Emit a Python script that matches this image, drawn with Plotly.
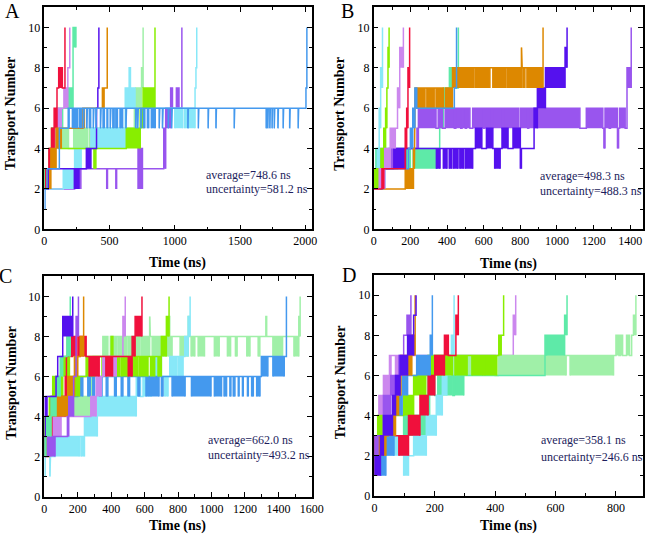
import plotly.graph_objects as go

W, H = 661, 546

# colours
C_RED = '#f0103c'; C_ORCHID = '#cc88ee'; C_AQUA = '#5eeaa8'; C_BVIOLET = '#5511ee'
C_ORANGE = '#dd8800'; C_PGREEN = '#a0f0a8'; C_CHART = '#88ee00'; C_PURPLE = '#9955ee'
C_CYAN = '#88e8f8'; C_BLUE = '#4499ee'

# Each trajectory: list of [t_end, low, high]; low<high = rapid hopping between levels.
# ---------------- Panel A ----------------
A_red = [[10,2,2],[35,2,3],[55,3,4],[75,4,5],[97,5,6],[110,7,7],[138,7,8],[158,7,7]]
A_orchid = [[15,2,2],[45,2,3],[70,3,4],[100,4,5],[130,5,6],[150,6,6],[180,6,7],[195,8,8]]
A_aqua = [[25,2,3],[60,3,3],[95,4,5],[140,5,6],[182,6,6],[220,6,7],[242,9,10]]
A_bviolet = [[30,2,2],[230,3,3],[265,2,3],[322,3,3],[357,3,4],[400,4,4],[410,6,6],[418,7,7]]
A_orange = [[20,2,2],[50,2,3],[90,3,4],[130,4,5],[295,5,5],[307,5,6],[445,6,6],[458,6,7],[482,7,7]]
A_pgreen = [[35,2,3],[60,3,4],[185,4,5],[225,4,4],[330,4,5],[345,4,4],[455,4,5],[690,5,5],[700,5,6],[745,6,7],[757,7,8]]
A_chart = [[40,2,3],[55,3,4],[110,4,5],[380,4,4],[395,3,4],[628,4,4],[735,4,5],[757,5,6],[848,6,7]]
A_purple = [[232,2,2],[280,2,3],[478,3,3],[484,2,3],[548,3,3],[554,2,3],[718,3,3],[752,2,4],[915,3,3],[930,3,5],[968,5,6],[982,6,7],[1012,6,6],[1032,6,7],[1054,6,6]]
A_cyan = [[145,2,2],[232,2,3],[282,3,4],[357,4,4],[620,4,5],[650,6,7],[660,7,8],[695,6,7],[1000,6,6],[1060,5,6],[1075,6,6],[1155,5,6],[1162,7,7],[1168,8,8]]
A_blue = [[5,1,1],[20,2,2],[115,3,3],[183,5,5],[190,5,6],[215,6,6],[235,5,6],[245,6,6],[255,5,6],[270,6,6],[285,5,6],
          [300,6,6],[305,5,6],[325,6,6],[330,5,6],[345,6,6],[355,5,6],[375,6,6],[380,5,6],[395,6,6],[400,5,6],
          [430,6,6],[435,5,6],[450,6,6],[460,5,6],[480,6,6],[486,5,6],[505,6,6],[510,5,6],[525,6,6],[535,5,6],
          [548,6,6],[560,5,6],[580,6,6],[600,5,6],[625,6,6],[630,5,6],[700,6,6],[705,5,6],[715,6,6],[720,5,6],
          [740,6,6],[745,5,6],[760,6,6],[770,5,6],[790,6,6],[800,5,6],[820,6,6],[850,5,6],[880,6,6],[885,5,6],
          [905,6,6],[910,5,6],[950,6,6],[955,5,6],[975,6,6],[980,5,6],[1100,6,6],[1104,5,6],[1180,6,6],[1184,5,6],
          [1255,6,6],[1259,5,6],[1315,6,6],[1319,5,6],[1455,6,6],[1459,5,6],[1700,6,6],[1704,5,6],[1712,6,6],
          [1716,5,6],[1728,6,6],[1732,5,6],[1745,6,6],[1749,5,6],[1762,6,6],[1766,5,6],[1790,6,6],[1794,5,6],
          [1830,6,6],[1834,5,6],[1880,6,6],[1884,5,6],[1945,6,6],[1949,5,6],[2005,6,6],[2012,7,7]]

# ---------------- Panel B ----------------
B_cyan = [[8,2,2],[20,2,3],[30,3,4],[38,5,6],[48,7,8]]
B_chart = [[40,2,3],[55,3,4],[65,4,5],[72,5,6],[78,7,7],[84,8,9]]
B_orchid = [[30,2,2],[60,2,3],[90,3,4],[118,4,5],[130,5,5],[142,6,7],[162,8,9]]
B_red = [[45,2,2],[55,2,3],[172,3,3],[180,4,5],[187,5,6],[196,7,8]]
B_purple = [[20,2,2],[84,3,3],[120,3,4],[236,4,4],[244,4,5],[340,5,6],[352,5,5],[375,5,6],[390,5,5],[440,5,6],
            [448,5,5],[475,5,6],[482,5,5],[500,5,6],[506,5,5],[525,5,6],[540,5,5],[600,5,6],[606,5,5],[640,5,6],
            [648,5,5],[700,5,6],[708,5,5],[790,5,6],[800,5,5],[840,5,6],[846,5,5],[895,5,6],[1125,5,6],[1160,5,5],
            [1250,5,6],[1256,5,5],[1262,4,5],[1285,5,6],[1292,5,5],[1330,5,6],[1336,4,5],[1342,5,5],[1372,5,6],
            [1382,5,5],[1405,7,8]]
B_bviolet = [[30,2,2],[110,3,3],[174,3,4],[342,4,4],[362,3,4],[380,4,4],[400,3,4],[412,4,4],[425,3,4],[435,4,4],
             [460,3,4],[470,4,4],[490,3,4],[500,4,4],[540,3,4],[555,4,4],[590,4,5],[615,4,4],[650,4,5],[660,4,4],
             [690,3,4],[700,4,4],[733,4,5],[760,4,4],[800,4,5],[806,3,4],[875,4,4],[893,5,6],[937,6,7],[1044,7,8],[1055,8,9]]
B_orange = [[172,2,2],[217,2,3],[222,3,4],[226,5,6],[280,6,7],[290,7,7],[330,6,7],[340,7,7],[380,6,7],[392,6,6],
            [430,6,7],[440,7,8],[546,7,8],[555,8,8],[634,7,8],[650,8,8],[722,7,8],[731,8,8],[806,7,8],[810,8,9],
            [825,7,8],[836,8,8],[924,7,8]]
B_blue = [[50,2,2],[60,2,3],[190,3,3],[200,4,4],[213,4,5],[225,5,6],[235,6,7],[440,6,6],[452,7,7]]
B_aqua = [[12,2,3],[120,3,4],[130,3,3],[200,3,4],[215,3,3],[345,3,4],[360,4,4],[380,5,6],[413,6,7],[448,7,8],[462,7,7]]

# ---------------- Panel C ----------------
C_pgreen = [[20,2,3],[74,3,4],[278,4,5],[292,5,6],[320,6,7],[350,7,7],[380,7,8],[395,7,7],[430,7,8],[440,8,8],
            [460,7,8],[470,8,8],[490,7,8],[500,8,8],[520,7,8],[530,8,8],[570,7,8],[580,8,8],[630,7,8],[634,8,9],
            [645,8,8],[700,7,8],[710,8,8],[745,7,8],[750,8,9],[764,7,8],[812,8,8],[840,7,8],[845,8,8],[861,7,8],
            [868,8,9],[878,8,8],[900,7,8],[920,8,8],[958,7,8],[1017,8,8],[1046,7,8],[1095,8,8],[1114,7,8],
            [1143,8,8],[1153,7,8],[1211,8,8],[1230,7,8],[1279,8,8],[1289,7,8],[1325,8,8],[1330,8,9],[1367,8,8],
            [1425,7,8],[1493,8,8],[1522,7,8],[1530,8,9]]
C_blue = [[10,2,3],[60,3,4],[120,4,5],[200,5,5],[230,5,6],[260,6,6],[275,5,6],[290,6,6],[300,5,6],[330,6,6],
          [345,5,6],[370,6,6],[380,5,6],[420,6,6],[430,5,6],[460,6,6],[470,5,6],[500,6,6],[510,5,6],[560,6,6],
          [570,5,6],[608,6,6],[686,5,6],[700,6,6],[710,5,6],[764,6,6],[842,5,6],[880,6,6],[997,5,6],[1017,6,6],
          [1060,5,6],[1075,6,6],[1090,5,6],[1110,6,6],[1116,5,6],[1130,6,6],[1140,5,6],[1160,6,6],[1165,5,6],
          [1185,6,6],[1190,5,6],[1215,6,6],[1220,5,6],[1240,6,6],[1250,5,6],[1270,6,6],[1290,5,6],[1298,6,6],
          [1337,6,7],[1367,7,7],[1435,6,7],[1448,7,7]]
C_cyan = [[4,2,2],[8,1,2],[33,2,2],[37,1,2],[64,2,2],[210,2,3],[220,3,3],[240,2,3],[317,3,4],[550,4,5],[575,5,6],
          [590,5,5],[605,5,6],[620,6,6],[640,5,6],[660,6,6],[700,6,7],[720,6,6],[740,5,6],[750,6,6],[790,6,7],
          [800,7,7],[830,6,7],[840,7,7],[860,7,8],[872,8,9]]
C_chart = [[30,3,4],[50,4,5],[110,5,6],[150,6,7],[170,6,6],[210,5,6],[250,6,6],[300,6,7],[345,7,7],[400,6,7],
           [410,7,8],[420,7,7],[450,6,7],[460,7,7],[500,6,7],[520,7,7],[560,6,7],[570,7,7],[620,6,7],[635,7,7],
           [660,6,7],[680,7,7],[700,6,7],[730,7,8],[746,8,9]]
C_orchid = [[40,2,3],[100,3,4],[278,4,4],[310,4,5],[340,5,6],[350,6,6],[430,6,7],[470,7,7],[484,8,9]]
C_red = [[20,2,3],[45,3,4],[125,4,5],[132,5,6],[138,7,7],[160,7,8],[168,7,7],[195,7,8],[205,7,7],[250,7,8],
         [268,7,7],[328,6,7],[368,7,7],[408,6,7],[502,7,7],[525,6,7],[543,7,8],[584,8,9]]
C_orange = [[30,2,2],[40,3,4],[140,4,5],[180,5,6],[200,6,7],[215,7,7],[235,7,8]]
C_purple = [[20,2,2],[64,2,3],[138,3,3],[146,3,4],[175,4,5],[190,6,6],[204,8,9]]
C_aqua = [[10,2,3],[40,3,4],[70,4,5],[95,5,6],[110,6,7],[135,7,7],[155,7,8]]
C_bviolet = [[5,3,3],[16,4,5],[70,5,5],[80,6,6],[110,7,7],[170,8,9]]

# ---------------- Panel D ----------------
D_orchid = [[15,2,3],[30,4,5],[50,5,6],[55,6,7],[70,7,7],[97,6,7],[460,7,7],[468,8,9]]
D_pgreen = [[40,2,3],[97,3,3],[172,3,4],[176,4,5],[180,5,6],[250,6,7],[260,6,6],[400,6,7],[410,6,6],[555,6,7],
            [560,7,7],[635,6,7],[648,7,7],[792,6,7],[800,7,7],[810,7,8],[815,7,7],[822,7,8],[835,7,7],[845,7,8],
            [852,7,7],[858,8,8],[866,8,9]]
D_aqua = [[20,2,3],[97,3,3],[172,3,4],[183,4,5],[200,5,6],[210,5,5],[260,5,6],[265,5,5],[296,5,6],[320,6,6],
          [565,6,6],[570,7,8],[630,7,8],[638,8,9]]
D_cyan = [[30,2,2],[97,2,3],[113,1,2],[130,2,2],[172,2,3],[205,3,4],[225,4,5],[240,5,6],[255,6,7],[264,7,8]]
D_chart = [[11,2,3],[59,3,4],[97,4,4],[130,4,5],[170,5,6],[177,6,6],[215,6,7],[220,7,7],[258,6,7],[267,7,7],
           [307,6,7],[323,7,7],[360,6,7],[365,7,7],[405,6,7],[412,7,7],[420,7,8],[428,8,8]]
D_red = [[30,2,3],[81,3,3],[113,2,3],[151,3,4],[178,4,5],[200,5,6],[232,6,7],[245,7,8],[270,7,7],[278,8,9]]
D_blue = [[22,2,2],[38,1,2],[65,2,3],[92,4,5],[110,5,6],[140,6,6],[185,6,7],[192,7,8]]
D_orange = [[10,1,2],[38,2,3],[46,3,3],[70,3,4],[80,4,5],[88,5,6],[124,6,7],[135,7,8]]
D_purple = [[12,2,3],[30,3,3],[54,4,5],[81,5,6],[97,6,7],[108,8,8],[121,8,9]]
D_bviolet = [[20,1,2],[30,2,3],[60,3,4],[70,4,5],[85,5,6],[110,6,7],[130,7,8],[138,9,9]]

panels = [
    ('x', 'y', [(A_purple, C_PURPLE), (A_pgreen, C_PGREEN), (A_cyan, C_CYAN), (A_chart, C_CHART),
                (A_aqua, C_AQUA), (A_orchid, C_ORCHID), (A_red, C_RED), (A_orange, C_ORANGE),
                (A_bviolet, C_BVIOLET), (A_blue, C_BLUE)]),
    ('x2', 'y2', [(B_aqua, C_AQUA), (B_purple, C_PURPLE), (B_bviolet, C_BVIOLET), (B_orange, C_ORANGE),
                  (B_blue, C_BLUE), (B_cyan, C_CYAN), (B_chart, C_CHART), (B_orchid, C_ORCHID), (B_red, C_RED)]),
    ('x3', 'y3', [(C_pgreen, C_PGREEN), (C_cyan, C_CYAN), (C_blue, C_BLUE), (C_chart, C_CHART),
                  (C_orchid, C_ORCHID), (C_red, C_RED), (C_orange, C_ORANGE), (C_purple, C_PURPLE),
                  (C_aqua, C_AQUA), (C_bviolet, C_BVIOLET)]),
    ('x4', 'y4', [(D_orchid, C_ORCHID), (D_pgreen, C_PGREEN), (D_aqua, C_AQUA), (D_cyan, C_CYAN),
                  (D_chart, C_CHART), (D_red, C_RED), (D_blue, C_BLUE), (D_orange, C_ORANGE),
                  (D_purple, C_PURPLE), (D_bviolet, C_BVIOLET)]),
]

EXIT_LEVEL = 10


def build(segs):
    t0 = 0
    lx, ly, rx, ry = [], [], [], []
    for t1, lo, hi in segs:
        if lo == hi:
            lx += [t0, t1]; ly += [lo, lo]
        else:
            lx += [t0, t0, t1, t1]; ly += [lo, hi, hi, lo]
            rx += [t0, t1, t1, t0, t0, None]; ry += [lo, lo, hi, hi, lo, None]
        t0 = t1
    lx.append(t0); ly.append(EXIT_LEVEL)
    return lx, ly, rx, ry


fig = go.Figure()
for xa, ya, trajs in panels:
    for segs, col in trajs:
        lx, ly, rx, ry = build(segs)
        if rx:
            fig.add_trace(go.Scatter(x=rx, y=ry, xaxis=xa, yaxis=ya, mode='lines', fill='toself',
                                     fillcolor=col, line=dict(width=0, color=col), hoverinfo='skip',
                                     showlegend=False))
        fig.add_trace(go.Scatter(x=lx, y=ly, xaxis=xa, yaxis=ya, mode='lines',
                                 line=dict(width=1.5, color=col), showlegend=False))


def px(x):
    return x / W


def py(y):
    return 1 - y / H


FONT = 'Liberation Serif'
x_ranges = [[0, 2050], [0, 1470], [0, 1600], [0, 890]]
x_dticks = [500, 200, 200, 200]
x_doms = [[42.3, 316], [379.3, 655], [42.3, 316], [380, 655]]
y_doms = [[7.3, 232.3], [7.3, 232.3], [280, 503], [278.7, 502.3]]
names = ['', '2', '3', '4']

layout = dict(width=W, height=H, margin=dict(l=0, r=0, t=0, b=0), plot_bgcolor='white',
              paper_bgcolor='white', showlegend=False)
axcommon = dict(showline=True, linecolor='black', linewidth=1.5, mirror='allticks', ticks='inside',
                ticklen=5, tickwidth=1.2, tickcolor='black', showgrid=False, zeroline=False,
                tickfont=dict(family=FONT, size=12, color='black'))
for i in range(4):
    xd = x_doms[i]; yd = y_doms[i]
    layout['xaxis' + names[i]] = dict(axcommon, domain=[px(xd[0]), px(xd[1])], range=x_ranges[i],
                                      dtick=x_dticks[i], tick0=0, anchor='y' + names[i],
                                      minor=dict(dtick=x_dticks[i] / 2, ticks='inside', ticklen=3,
                                                 tickcolor='black', showgrid=False))
    layout['yaxis' + names[i]] = dict(axcommon, domain=[py(yd[1]), py(yd[0])], range=[0, 11],
                                      dtick=2, tick0=0, anchor='x' + names[i],
                                      minor=dict(dtick=1, ticks='inside', ticklen=3,
                                                 tickcolor='black', showgrid=False))
fig.update_layout(**layout)

annos = []
xt_pos = [(179, 266), (517, 267), (179, 533), (517, 533)]
yt_pos = [(8, 115), (344, 115), (8, 388), (345, 387)]
for (x, y) in xt_pos:
    annos.append(dict(x=px(x), y=py(y), xref='paper', yref='paper', text='<b>Time (ns)</b>', showarrow=False,
                      font=dict(family=FONT, size=14, color='black'), xanchor='center', yanchor='middle'))
for (x, y) in yt_pos:
    annos.append(dict(x=px(x), y=py(y), xref='paper', yref='paper', text='<b>Transport Number</b>',
                      showarrow=False, textangle=-90, font=dict(family=FONT, size=14, color='black'),
                      xanchor='center', yanchor='middle'))
letters = [('A', 9.5, 11.5), ('B', 353, 11.5), ('C', 3, 280), ('D', 354, 279)]
for t, x, y in letters:
    annos.append(dict(x=px(x), y=py(y), xref='paper', yref='paper', text=t, showarrow=False,
                      font=dict(family=FONT, size=20, color='black'), xanchor='center', yanchor='middle'))
averages = ['748.6', '498.3', '662.0', '358.1']
uncert = ['581.2', '488.3', '493.2', '246.6']
stat_pos = [(206, 177, 191), (547, 178, 193), (208, 446, 461), (548, 446, 463)]
for a, u, (x, y1, y2) in zip(averages, uncert, stat_pos):
    annos.append(dict(x=px(x), y=py(y1), xref='paper', yref='paper', text='average=%s ns' % a,
                      showarrow=False, font=dict(family=FONT, size=12, color='#1d1d5c'),
                      xanchor='left', yanchor='middle'))
    annos.append(dict(x=px(x), y=py(y2), xref='paper', yref='paper', text='uncertainty=%s ns' % u,
                      showarrow=False, font=dict(family=FONT, size=12, color='#1d1d5c'),
                      xanchor='left', yanchor='middle'))
fig.update_layout(annotations=annos)

fig.write_html('out.html')
